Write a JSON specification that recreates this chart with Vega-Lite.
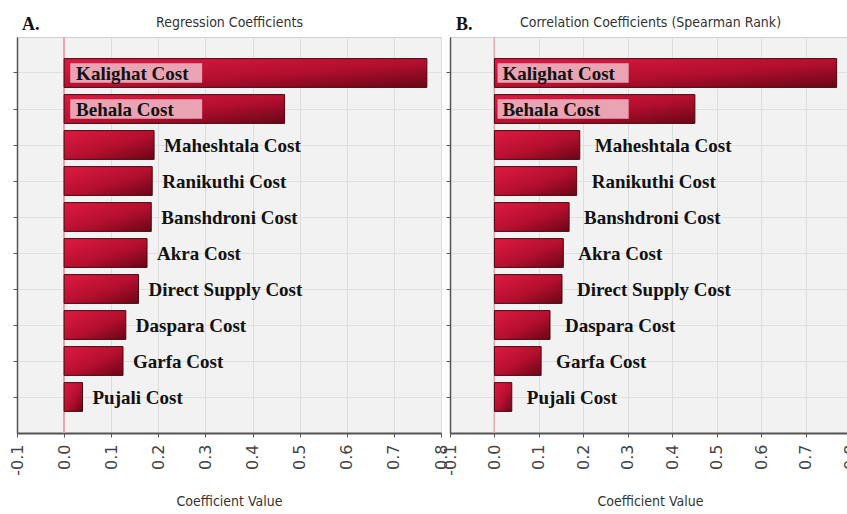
{
  "$schema": "https://vega.github.io/schema/vega-lite/v6.json",
  "background": "white",
  "padding": {"left": 8, "top": 14, "right": 0, "bottom": 0},
  "spacing": 9,
  "bounds": "flush",
  "config": {
    "view": {"fill": "#f2f2f2", "stroke": "#cfcfcf", "strokeWidth": 1},
    "axisY": {
      "title": null, "labels": false, "ticks": true, "tickSize": 4, "tickColor": "#555555",
      "domainColor": "#555555", "domainWidth": 1.5, "grid": true, "gridColor": "#e0e0e0", "bandPosition": 0.5
    },
    "title": {
      "font": "Liberation Serif", "fontSize": 18, "fontWeight": "bold", "color": "#111111",
      "anchor": "start", "frame": "group", "baseline": "alphabetic", "offset": -19, "dx": 5
    }
  },
  "datasets": {
    "regression": [
      {"region": "Kalighat Cost", "value": 0.770},
      {"region": "Behala Cost", "value": 0.468},
      {"region": "Maheshtala Cost", "value": 0.191},
      {"region": "Ranikuthi Cost", "value": 0.187},
      {"region": "Banshdroni Cost", "value": 0.185},
      {"region": "Akra Cost", "value": 0.176},
      {"region": "Direct Supply Cost", "value": 0.158},
      {"region": "Daspara Cost", "value": 0.131},
      {"region": "Garfa Cost", "value": 0.125},
      {"region": "Pujali Cost", "value": 0.039}
    ],
    "spearman": [
      {"region": "Kalighat Cost", "value": 0.770},
      {"region": "Behala Cost", "value": 0.451},
      {"region": "Maheshtala Cost", "value": 0.192},
      {"region": "Ranikuthi Cost", "value": 0.185},
      {"region": "Banshdroni Cost", "value": 0.168},
      {"region": "Akra Cost", "value": 0.155},
      {"region": "Direct Supply Cost", "value": 0.152},
      {"region": "Daspara Cost", "value": 0.125},
      {"region": "Garfa Cost", "value": 0.105},
      {"region": "Pujali Cost", "value": 0.039}
    ]
  },
  "hconcat": [
    {
      "width": 424,
      "height": 396,
      "data": {"name": "regression"},
      "title": {"text": "A."},
      "layer": [
        {
          "mark": {"type": "rule", "color": "#e8a6ae", "strokeWidth": 1},
          "encoding": {"x": {"datum": 0, "type": "quantitative", "axis": null, "scale": {"domain": [-0.1, 0.8], "nice": false, "zero": false}}}
        },
        {
          "mark": {
            "type": "bar", "stroke": "#4a0810", "strokeWidth": 1,
            "color": {"gradient": "linear", "x1": 0, "y1": 0, "x2": 1, "y2": 1,
              "stops": [{"offset": 0, "color": "#df1a42"}, {"offset": 0.55, "color": "#b40f2e"}, {"offset": 1, "color": "#6a0616"}]}
          },
          "encoding": {
            "y": {"field": "region", "type": "nominal", "sort": null, "scale": {"paddingInner": 0.2, "paddingOuter": 0.6}},
            "x": {
              "field": "value", "type": "quantitative",
              "scale": {"domain": [-0.1, 0.8], "nice": false, "zero": false},
              "axis": {
                "orient": "bottom", "values": [-0.1, 0, 0.1, 0.2, 0.3, 0.4, 0.5, 0.6, 0.7, 0.8],
                "labelExpr": "datum.value < 0 ? '-' + format(-datum.value, '.1f') : format(datum.value, '.1f')",
                "labelAngle": -90, "labelFont": "DejaVu Sans", "labelFontSize": 16, "labelColor": "#444444",
                "labelPadding": 7, "tickSize": 4, "tickColor": "#555555", "domainColor": "#555555", "domainWidth": 2,
                "grid": true, "gridColor": "#dddddd",
                "title": "Coefficient Value", "titleFont": "DejaVu Sans Condensed, Roboto, sans-serif", "titleFontSize": 14,
                "titleFontWeight": "normal", "titleColor": "#333333", "titlePadding": 19
              }
            }
          }
        },
        {
          "transform": [{"filter": "datum.value > 0.3"}],
          "mark": {"type": "bar", "color": "#e9a3b3", "height": {"band": 0.67}},
          "encoding": {
            "y": {"field": "region", "type": "nominal", "sort": null},
            "x": {"datum": 0.013, "type": "quantitative", "axis": null},
            "x2": {"datum": 0.293}
          }
        },
        {
          "transform": [{"filter": "datum.value > 0.3"}],
          "mark": {"type": "text", "align": "left", "baseline": "middle", "dx": 12, "dy": 1,
            "font": "Liberation Serif", "fontWeight": "bold", "fontSize": 19, "color": "#111111"},
          "encoding": {
            "y": {"field": "region", "type": "nominal", "sort": null},
            "x": {"datum": 0, "type": "quantitative", "axis": null},
            "text": {"field": "region"}
          }
        },
        {
          "transform": [{"filter": "datum.value <= 0.3"}],
          "mark": {"type": "text", "align": "left", "baseline": "middle", "dx": 10, "dy": 1,
            "font": "Liberation Serif", "fontWeight": "bold", "fontSize": 19, "color": "#111111"},
          "encoding": {
            "y": {"field": "region", "type": "nominal", "sort": null},
            "x": {
              "field": "value", "type": "quantitative",
              "axis": {
                "orient": "top", "labels": false, "ticks": false, "domain": false, "grid": false,
                "title": "Regression Coefficients", "titleFont": "DejaVu Sans Condensed, Roboto, sans-serif", "titleFontSize": 14,
                "titleFontWeight": "normal", "titleColor": "#333333", "titleBaseline": "alphabetic", "titlePadding": 11
              }
            },
            "text": {"field": "region"}
          }
        }
      ]
    },
    {
      "width": 400,
      "height": 396,
      "data": {"name": "spearman"},
      "title": {"text": "B.", "dx": 6},
      "layer": [
        {
          "mark": {"type": "rule", "color": "#e8a6ae", "strokeWidth": 1},
          "encoding": {"x": {"datum": 0, "type": "quantitative", "axis": null, "scale": {"domain": [-0.1, 0.8], "nice": false, "zero": false}}}
        },
        {
          "mark": {
            "type": "bar", "stroke": "#4a0810", "strokeWidth": 1,
            "color": {"gradient": "linear", "x1": 0, "y1": 0, "x2": 1, "y2": 1,
              "stops": [{"offset": 0, "color": "#df1a42"}, {"offset": 0.55, "color": "#b40f2e"}, {"offset": 1, "color": "#6a0616"}]}
          },
          "encoding": {
            "y": {"field": "region", "type": "nominal", "sort": null, "scale": {"paddingInner": 0.2, "paddingOuter": 0.6}},
            "x": {
              "field": "value", "type": "quantitative",
              "scale": {"domain": [-0.1, 0.8], "nice": false, "zero": false},
              "axis": {
                "orient": "bottom", "values": [-0.1, 0, 0.1, 0.2, 0.3, 0.4, 0.5, 0.6, 0.7, 0.8],
                "labelExpr": "datum.value < 0 ? '-' + format(-datum.value, '.1f') : format(datum.value, '.1f')",
                "labelAngle": -90, "labelFont": "DejaVu Sans", "labelFontSize": 16, "labelColor": "#444444",
                "labelPadding": 7, "tickSize": 4, "tickColor": "#555555", "domainColor": "#555555", "domainWidth": 2,
                "grid": true, "gridColor": "#dddddd",
                "title": "Coefficient Value", "titleFont": "DejaVu Sans Condensed, Roboto, sans-serif", "titleFontSize": 14,
                "titleFontWeight": "normal", "titleColor": "#333333", "titlePadding": 19
              }
            }
          }
        },
        {
          "transform": [{"filter": "datum.value > 0.3"}],
          "mark": {"type": "bar", "color": "#e9a3b3", "height": {"band": 0.67}},
          "encoding": {
            "y": {"field": "region", "type": "nominal", "sort": null},
            "x": {"datum": 0.007, "type": "quantitative", "axis": null},
            "x2": {"datum": 0.302}
          }
        },
        {
          "transform": [{"filter": "datum.value > 0.3"}],
          "mark": {"type": "text", "align": "left", "baseline": "middle", "dx": 8, "dy": 1,
            "font": "Liberation Serif", "fontWeight": "bold", "fontSize": 19, "color": "#111111"},
          "encoding": {
            "y": {"field": "region", "type": "nominal", "sort": null},
            "x": {"datum": 0, "type": "quantitative", "axis": null},
            "text": {"field": "region"}
          }
        },
        {
          "transform": [{"filter": "datum.value <= 0.3"}],
          "mark": {"type": "text", "align": "left", "baseline": "middle", "dx": 15, "dy": 1,
            "font": "Liberation Serif", "fontWeight": "bold", "fontSize": 19, "color": "#111111"},
          "encoding": {
            "y": {"field": "region", "type": "nominal", "sort": null},
            "x": {
              "field": "value", "type": "quantitative",
              "axis": {
                "orient": "top", "labels": false, "ticks": false, "domain": false, "grid": false,
                "title": "Correlation Coefficients (Spearman Rank)", "titleFont": "DejaVu Sans Condensed, Roboto, sans-serif", "titleFontSize": 14,
                "titleFontWeight": "normal", "titleColor": "#333333", "titleBaseline": "alphabetic", "titlePadding": 11
              }
            },
            "text": {"field": "region"}
          }
        }
      ]
    }
  ]
}
